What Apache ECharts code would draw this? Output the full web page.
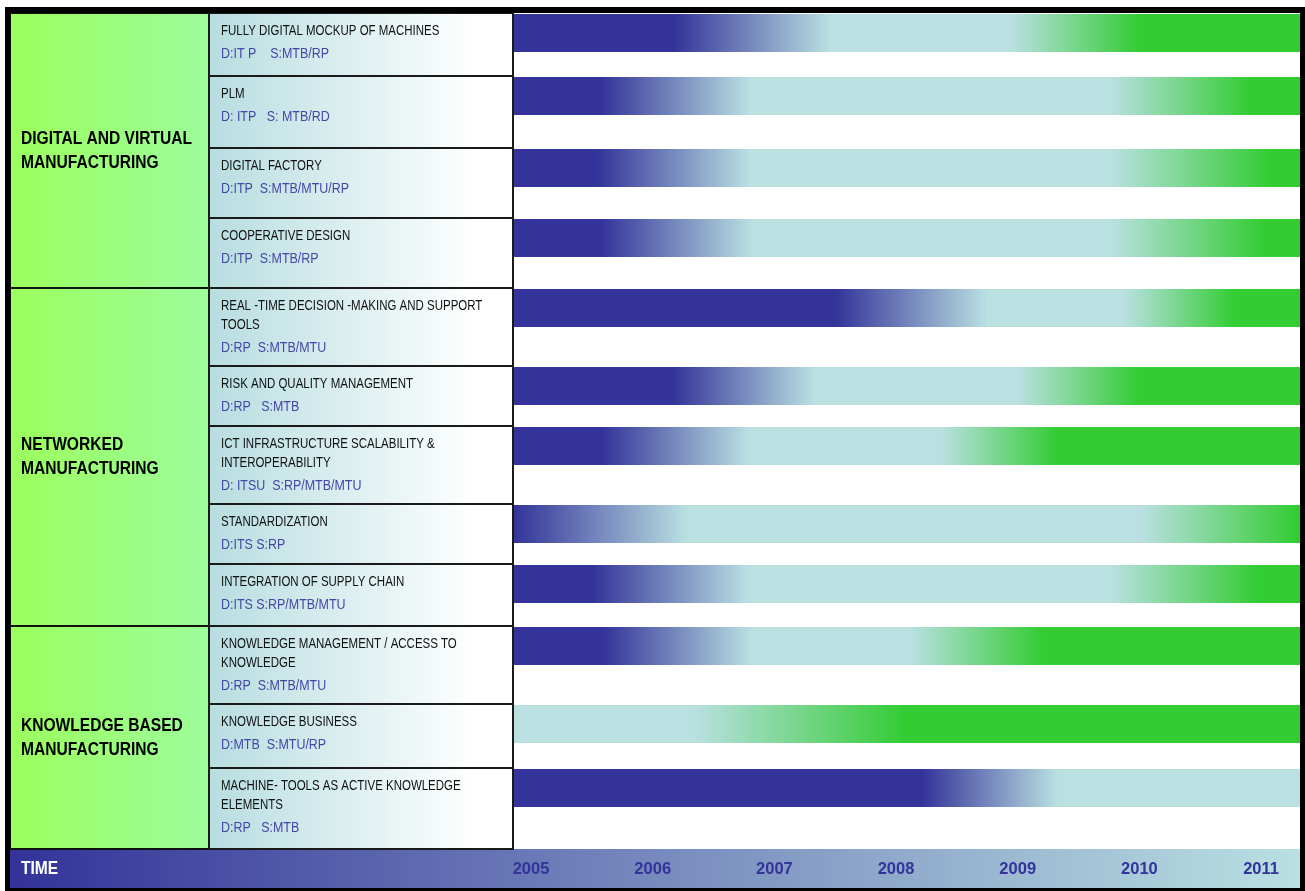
<!DOCTYPE html>
<html>
<head>
<meta charset="utf-8">
<script src="https://cdn.jsdelivr.net/npm/echarts@6/dist/echarts.min.js"></script>
<style>
  html, body { margin: 0; padding: 0; background: #fff; }
  #main { width: 1305px; height: 891px; }
</style>
</head>
<body>
<div id="main"></div>
<script>
var myChart = echarts.init(document.getElementById('main'));

// groups and how many items each one holds
var groups = ['DIGITAL AND VIRTUAL\nMANUFACTURING', 'NETWORKED\nMANUFACTURING', 'KNOWLEDGE BASED\nMANUFACTURING'];
var groupSizes = [4, 5, 3];

var items = [
    'FULLY DIGITAL MOCKUP OF MACHINES',
    'PLM',
    'DIGITAL FACTORY',
    'COOPERATIVE DESIGN',
    'REAL -TIME DECISION -MAKING AND SUPPORT\nTOOLS',
    'RISK AND QUALITY MANAGEMENT',
    'ICT INFRASTRUCTURE SCALABILITY &\nINTEROPERABILITY',
    'STANDARDIZATION',
    'INTEGRATION OF SUPPLY CHAIN',
    'KNOWLEDGE MANAGEMENT / ACCESS TO\nKNOWLEDGE',
    'KNOWLEDGE BUSINESS',
    'MACHINE- TOOLS AS ACTIVE KNOWLEDGE\nELEMENTS'
];
var owners = [
    'D:IT P    S:MTB/RP',
    'D: ITP   S: MTB/RD',
    'D:ITP  S:MTB/MTU/RP',
    'D:ITP  S:MTB/RP',
    'D:RP  S:MTB/MTU',
    'D:RP   S:MTB',
    'D: ITSU  S:RP/MTB/MTU',
    'D:ITS S:RP',
    'D:ITS S:RP/MTB/MTU',
    'D:RP  S:MTB/MTU',
    'D:MTB  S:MTU/RP',
    'D:RP   S:MTB'
];

// timeline (years) : where each phase ends / starts, null = phase absent
var timelineStart = 2004.86;
var timelineEnd = 2011.32;
var darkEnd   = [2006.17, 2005.57, 2005.54, 2005.57, 2007.50, 2006.16, 2005.58, 2004.86, 2005.50, 2005.59, null,    2008.21];
var cyanStart = [2007.46, 2006.80, 2006.80, 2006.82, 2008.75, 2007.33, 2006.79, 2006.28, 2006.79, 2006.81, null,    2009.33];
var cyanEnd   = [2008.94, 2009.76, 2009.76, 2009.76, 2009.87, 2009.00, 2008.37, 2010.01, 2009.76, 2008.11, 2006.33, null];
var greenStart= [2010.00, 2010.91, 2011.07, 2011.03, 2010.79, 2010.00, 2009.33, 2011.30, 2010.98, 2009.21, 2008.08, null];

var years = [2005, 2006, 2007, 2008, 2009, 2010, 2011];

// layout: row heights (rows with two title lines are taller)
var rowHeights = [63, 72, 70, 70, 78, 60, 78, 60, 62, 78, 64, 81];

var DARK = '#333399', CYAN = '#bae0e2', GREEN = '#33cc33';
var FONT = "'Liberation Sans', Arial, sans-serif";
var NARROW = 0.82;   // squeeze Arial into an Arial Narrow look

var rowTops = [];
var acc = 0;
rowHeights.forEach(function (h) { rowTops.push(acc); acc += h; });
var total = acc;

var groupSpans = [];
var r = 0;
groupSizes.forEach(function (n) {
    groupSpans.push([rowTops[r], rowTops[r + n - 1] + rowHeights[r + n - 1]]);
    r += n;
});

function frac(v) {
    return Math.max(0, Math.min(1, (v - timelineStart) / (timelineEnd - timelineStart)));
}

function barStops(i) {
    var s = [];
    if (darkEnd[i] != null) {
        s.push({offset: 0, color: DARK});
        s.push({offset: frac(darkEnd[i]), color: DARK});
    }
    s.push({offset: cyanStart[i] != null ? frac(cyanStart[i]) : 0, color: CYAN});
    s.push({offset: cyanEnd[i] != null ? frac(cyanEnd[i]) : 1, color: CYAN});
    if (greenStart[i] != null) {
        s.push({offset: frac(greenStart[i]), color: GREEN});
        s.push({offset: 1, color: GREEN});
    }
    return s;
}

function rowY(api, v) {
    return api.coord([0, v])[1];
}

var option = {
    animation: false,
    backgroundColor: '#ffffff',
    grid: [
        {left: 10, top: 13, width: 199, height: total},
        {left: 209, top: 13, width: 304, height: total},
        {left: 514, top: 13, width: 786, height: total}
    ],
    xAxis: [
        {gridIndex: 0, type: 'value', min: 0, max: 1, show: false},
        {gridIndex: 1, type: 'value', min: 0, max: 1, show: false},
        {
            gridIndex: 2, type: 'value', min: timelineStart, max: timelineEnd,
            z: 10,
            axisLine: {show: false},
            axisTick: {show: false},
            splitLine: {show: false},
            axisLabel: {
                customValues: years,
                formatter: function (v) { return String(v); },
                color: DARK,
                fontWeight: 'bold',
                fontSize: 16.5,
                fontFamily: FONT,
                margin: 12
            }
        }
    ],
    yAxis: [0, 1, 2].map(function (g) {
        return {gridIndex: g, type: 'value', min: 0, max: total, inverse: true, show: false};
    }),
    graphic: [
        {
            type: 'rect', z: 1,
            shape: {x: 10, y: 849, width: 1290, height: 39},
            style: {fill: new echarts.graphic.LinearGradient(0, 0, 1, 0, [
                {offset: 0, color: DARK}, {offset: 1, color: CYAN}
            ])}
        },
        {
            type: 'text', z: 2, x: 21, y: 869, scaleX: NARROW,
            style: {text: 'TIME', fill: '#ffffff', font: 'bold 19px ' + FONT, verticalAlign: 'middle'}
        },
        {type: 'rect', z: 20, shape: {x: 5, y: 7, width: 1300, height: 6}, style: {fill: '#000'}},
        {type: 'rect', z: 20, shape: {x: 5, y: 7, width: 5, height: 884}, style: {fill: '#000'}},
        {type: 'rect', z: 20, shape: {x: 1300, y: 7, width: 5, height: 884}, style: {fill: '#000'}},
        {type: 'rect', z: 20, shape: {x: 5, y: 888, width: 1300, height: 3}, style: {fill: '#000'}}
    ],
    series: [
        {
            // group column
            type: 'custom',
            xAxisIndex: 0, yAxisIndex: 0,
            data: groups.map(function (g, i) { return [i]; }),
            renderItem: function (params, api) {
                var i = api.value(0);
                var cs = params.coordSys;
                var y0 = rowY(api, groupSpans[i][0]);
                var y1 = rowY(api, groupSpans[i][1]);
                return {
                    type: 'group',
                    children: [
                        {
                            type: 'rect',
                            shape: {x: cs.x, y: y0, width: cs.width, height: y1 - y0},
                            style: {
                                fill: new echarts.graphic.LinearGradient(0, 0, 1, 0, [
                                    {offset: 0, color: '#9bff5c'}, {offset: 1, color: '#9cfd9c'}
                                ]),
                                stroke: '#111', lineWidth: 2
                            }
                        },
                        {
                            type: 'text',
                            x: cs.x + 11, y: (y0 + y1) / 2, scaleX: NARROW,
                            style: {
                                text: groups[i], fill: '#000',
                                font: 'bold 19px ' + FONT,
                                lineHeight: 24, verticalAlign: 'middle'
                            }
                        }
                    ]
                };
            }
        },
        {
            // item column
            type: 'custom',
            xAxisIndex: 1, yAxisIndex: 1,
            data: items.map(function (t, i) { return [i]; }),
            renderItem: function (params, api) {
                var i = api.value(0);
                var cs = params.coordSys;
                var y0 = rowY(api, rowTops[i]);
                var y1 = rowY(api, rowTops[i] + rowHeights[i]);
                var txt = items[i].split('\n').map(function (l) { return '{t|' + l + '}'; }).join('\n')
                    + '\n{d|' + owners[i] + '}';
                return {
                    type: 'group',
                    children: [
                        {
                            type: 'rect',
                            shape: {x: cs.x, y: y0, width: cs.width, height: y1 - y0},
                            style: {
                                fill: new echarts.graphic.LinearGradient(0, 0, 1, 0, [
                                    {offset: 0, color: '#b7dde0'}, {offset: 0.88, color: '#ffffff'}, {offset: 1, color: '#ffffff'}
                                ]),
                                stroke: '#1a1a1a', lineWidth: 2
                            }
                        },
                        {
                            type: 'text',
                            x: cs.x + 12, y: y0 + 9, scaleX: NARROW,
                            style: {
                                text: txt,
                                verticalAlign: 'top',
                                rich: {
                                    t: {fontSize: 14, fontFamily: FONT, fill: '#111', lineHeight: 19},
                                    d: {fontSize: 15.2, fontFamily: FONT, fill: '#4646a8', lineHeight: 26}
                                }
                            }
                        }
                    ]
                };
            }
        },
        {
            // timeline bars
            type: 'custom',
            xAxisIndex: 2, yAxisIndex: 2,
            data: items.map(function (t, i) { return [timelineStart, timelineEnd, i]; }),
            renderItem: function (params, api) {
                var i = api.value(2);
                var p0 = api.coord([api.value(0), rowTops[i] + 1]);
                var p1 = api.coord([api.value(1), rowTops[i] + 39]);
                return {
                    type: 'rect',
                    shape: {x: p0[0], y: p0[1], width: p1[0] - p0[0], height: p1[1] - p0[1]},
                    style: {fill: new echarts.graphic.LinearGradient(0, 0, 1, 0, barStops(i))}
                };
            }
        }
    ]
};

myChart.setOption(option);
</script>
</body>
</html>
